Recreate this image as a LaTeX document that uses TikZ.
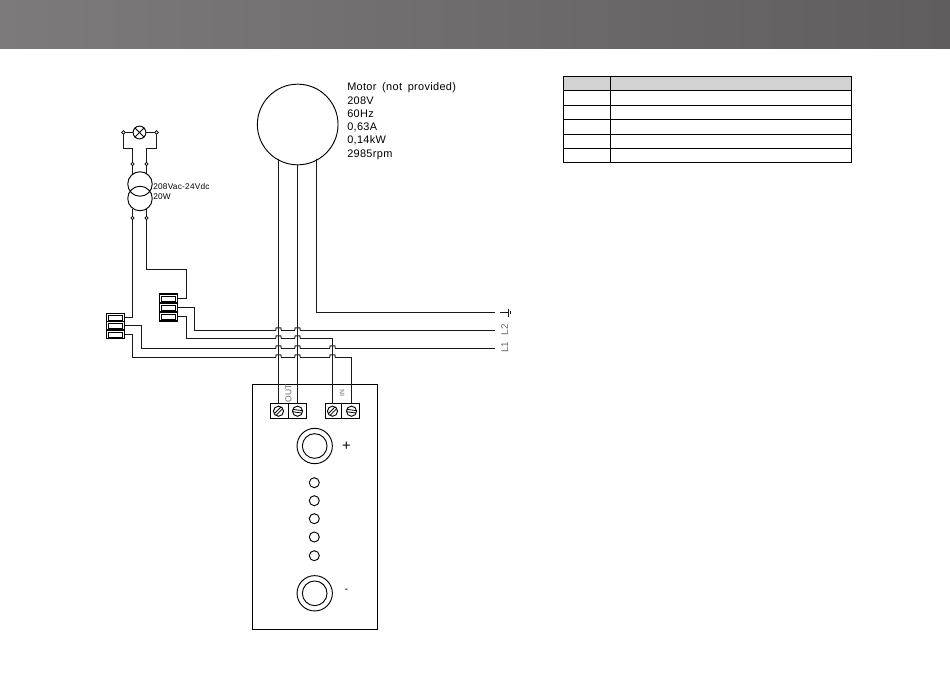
\documentclass[tikz,border=0pt]{standalone}
\usepackage{fontspec}
\setmainfont{Liberation Sans}
\newfontfamily\cadfont[LetterSpace=3,WordSpace=1.7]{Liberation Sans}
\usetikzlibrary{shapes.misc,shapes.geometric}
\definecolor{headL}{RGB}{124,122,122}
\definecolor{headR}{RGB}{96,93,94}
\definecolor{labelgray}{RGB}{105,105,105}
\tikzset{
  wire/.style={line width=0.85pt,black!90},
  thin wire/.style={line width=0.75pt,black!90},
  cell/.style={draw,line width=0.8pt,minimum width=13.5pt,minimum height=6pt,inner sep=0pt,outer sep=0pt},
  inner cell/.style={draw,line width=0.6pt,minimum width=10.5pt,minimum height=3.75pt,inner sep=0pt},
  screw box/.style={draw,line width=0.75pt,minimum width=13.5pt,minimum height=11.25pt,inner sep=0pt,outer sep=0pt},
  round part/.style={circle,draw,line width=0.7pt,inner sep=0pt,outer sep=0pt},
  tiny end/.style={circle,draw,fill=white,line width=0.6pt,inner sep=0pt,minimum size=2.4pt},
  tiny tip/.style={diamond,draw,fill=white,line width=0.6pt,inner sep=0pt,minimum size=3pt},
  cad text/.style={anchor=west,inner sep=0pt,font=\cadfont\fontsize{8.2}{9}\selectfont},
  cad small/.style={anchor=west,inner sep=0pt,font=\cadfont\fontsize{6.2}{7}\selectfont},
  side label/.style={rotate=90,inner sep=0pt,text=labelgray,font=\fontsize{7.4}{8}\selectfont},
}
\begin{document}
\begin{tikzpicture}[x=0.75pt,y=0.75pt,yscale=-1,xscale=1]
\useasboundingbox (0,0) rectangle (950,672);
%Header band
\node (band) [anchor=north west,minimum width=712.5pt,minimum height=36.5pt,inner sep=0pt,outer sep=0pt,left color=headL,right color=headR] at (0,0) {};

%Table
\fill [gray!35] (563.5,76.5) rectangle (851.5,90.5);
\draw [line width=0.85pt] (563.5,76.5) rectangle (851.5,162.5);
\draw [line width=0.85pt] (610.5,76.5) -- (610.5,162.5);
\foreach \rowy in {90.5,105.5,119.5,134.5,148.5}
  \draw [line width=0.85pt] (563.5,\rowy) -- (851.5,\rowy);

%Motor
\node (motor) [round part,minimum size=60.5pt] at (297.7,124.5) {};
\node (motortxtA) [cad text] at (347,87.3) {Motor (not provided)};
\node (motortxtB) [cad text] at (347,100.7) {208V};
\node (motortxtC) [cad text] at (347,114) {60Hz};
\node (motortxtD) [cad text] at (347,127.3) {0,63A};
\node (motortxtE) [cad text] at (347,140.7) {0,14kW};
\node (motortxtF) [cad text] at (347,154.7) {2985rpm};

%Lamp
\node (lampx) [draw,cross out,line width=0.7pt,minimum size=6.6pt,inner sep=0pt] at (139.5,132.5) {};
\node (lamp) [round part,minimum size=9.6pt] at (139.5,132.5) {};
\node (tipL) [tiny tip] at (123.5,132.5) {};
\node (tipR) [tiny tip] at (156.5,132.5) {};
\draw [thin wire] (tipL) -- (lamp);
\draw [thin wire] (lamp) -- (tipR);

%Transformer
\node (coilA) [round part,minimum size=18.4pt] at (140,184) {};
\node (coilB) [round part,minimum size=18.4pt] at (140,198.5) {};
\node (trtxtA) [cad small] at (153,186.5) {208Vac-24Vdc};
\node (trtxtB) [cad small] at (153,196.7) {20W};
\node (endA) [tiny end] at (132.5,164) {};
\node (endB) [tiny end] at (146.5,164) {};
\node (endC) [tiny end] at (132.5,218) {};
\node (endD) [tiny end] at (146.5,218) {};
\draw [thin wire] (tipL) -- (123.5,148.5) -- (132.5,148.5) -- (endA);
\draw [thin wire] (tipR) -- (156.5,148.5) -- (146.5,148.5) -- (endB);
\draw [thin wire] (endA) -- (132.5,174);
\draw [thin wire] (endB) -- (146.5,174);
\draw [thin wire] (endC) -- (132.5,209);
\draw [thin wire] (endD) -- (146.5,209);

%Terminal blocks
\foreach \idx/\celly in {1/298.5,2/307.5,3/316.5}{
  \node (blkB\idx) [cell,minimum height=6.75pt] at (168.5,\celly) {};
  \node [inner cell] at (168.5,\celly) {};
}
\foreach \idx/\celly in {1/317.5,2/325.5,3/334.5}{
  \node (blkA\idx) [cell] at (115.5,\celly) {};
  \node [inner cell] at (115.5,\celly) {};
}

%Controller
\node (ctrl) [draw,line width=0.75pt,minimum width=93.75pt,minimum height=183.75pt,inner sep=0pt,outer sep=0pt] at (315,507) {};
\node (outA) [screw box] at (279.5,411) {};
\node (outB) [screw box] at (297.5,411) {};
\node (inA) [screw box,minimum width=12pt] at (333.5,411) {};
\node (inB) [screw box] at (350.5,411) {};
\coordinate (outAtop) at (278.5,403.5);
\coordinate (outBtop) at (297.5,403.5);
\coordinate (inAtop) at (332.5,403.5);
\coordinate (inBtop) at (351.5,403.5);
\foreach \scr/\scrx/\slant in {outA/278.5/-45,outB/297.5/8,inA/332.5/-45,inB/351.5/8}{
  \node (\scr c) [round part,minimum size=7.6pt] at (\scrx,411.2) {};
  \draw [line width=0.6pt,rotate around={\slant:(\scr c)}] ([xshift=-3.6pt,yshift=0.9pt]\scr c.center) -- ++(7.2pt,0pt) ++(0pt,-1.8pt) -- ++(-7.2pt,0pt);
}
\node (plusO) [round part,minimum size=26.5pt] at (314.7,446) {};
\node (plusI) [round part,minimum size=18.5pt] at (314.7,446) {};
\node (minusO) [round part,minimum size=26.5pt] at (314.7,593.3) {};
\node (minusI) [round part,minimum size=18.5pt] at (314.7,593.3) {};
\foreach \ledy [count=\ledn] in {482.7,500.7,518.7,537,555.7}
  \node (led\ledn) [round part,minimum size=7.5pt] at (314.3,\ledy) {};
\node (plustxt) [inner sep=0pt,font=\fontsize{11}{11}\selectfont] at (346.5,446) {+};
\node (minustxt) [inner sep=0pt,font=\fontsize{8}{8}\selectfont] at (346.5,591) {-};
\node (outtxt) [side label,font=\fontsize{6.4}{7}\selectfont] at (288.5,393.5) {OUT};
\node (intxt) [side label,font=\fontsize{5}{6}\selectfont] at (342,393) {IN};

%Line ends
\coordinate (endE) at (495,312.5);
\coordinate (endL) at (495,330.5);
\coordinate (endN) at (495,348.5);
\coordinate (motorA) at (278.5,158.5);
\coordinate (motorB) at (297.5,164.5);
\coordinate (motorC) at (316.5,158.5);
\draw [wire] (500,312.5) -- (508.5,312.5);
\draw [wire] (508.5,308.5) -- (508.5,316.5);
\draw [line width=0.7pt] (510.5,310.8) -- (510.5,314.2);
\node (ltwo) [side label] at (504.7,329.7) {L2};
\node (lone) [side label] at (504.7,347.3) {L1};

%Wires
\draw [wire] (motorA) -- (outAtop);
\draw [wire] (motorB) -- (outBtop);
\draw [wire] (motorC) -- (316.5,312.5) -- (endE);
\draw [wire] (endC) -- (132.5,317.5) -- (blkA1.east);
\draw [wire] (endD) -- (146.5,269.5) -- (186.5,269.5) -- (186.5,298.5) -- (blkB1.east);
\draw [wire] (blkB2.east) -- (194.5,307.5) -- (194.5,330.5) -- (endL);
\draw [wire] (blkB3.east) -- (186.5,316.5) -- (186.5,338.5) -- (332.5,338.5) -- (inAtop);
\draw [wire] (blkA2.east) -- (141.5,325.5) -- (141.5,348.5) -- (endN);
\draw [wire] (blkA3.east) -- (132.5,334.5) -- (132.5,357.5) -- (351.5,357.5) -- (inBtop);

%Hops over the wires
\foreach \hopx/\hopy in {278.5/330.5,297.5/330.5,278.5/338.5,297.5/338.5,278.5/348.5,297.5/348.5,332.5/348.5,278.5/357.5,297.5/357.5,332.5/357.5}{
  \draw [white,line width=1.5pt] (\hopx-2.4,\hopy) -- (\hopx+2.4,\hopy);
  \draw [line width=0.7pt,black!90] (\hopx-2.8,\hopy) -- (\hopx-2.4,\hopy-2.7) -- (\hopx+2.4,\hopy-2.7) -- (\hopx+2.8,\hopy);
  \draw [wire] (\hopx,\hopy-3.2) -- (\hopx,\hopy+3);
}
\end{tikzpicture}
\end{document}
